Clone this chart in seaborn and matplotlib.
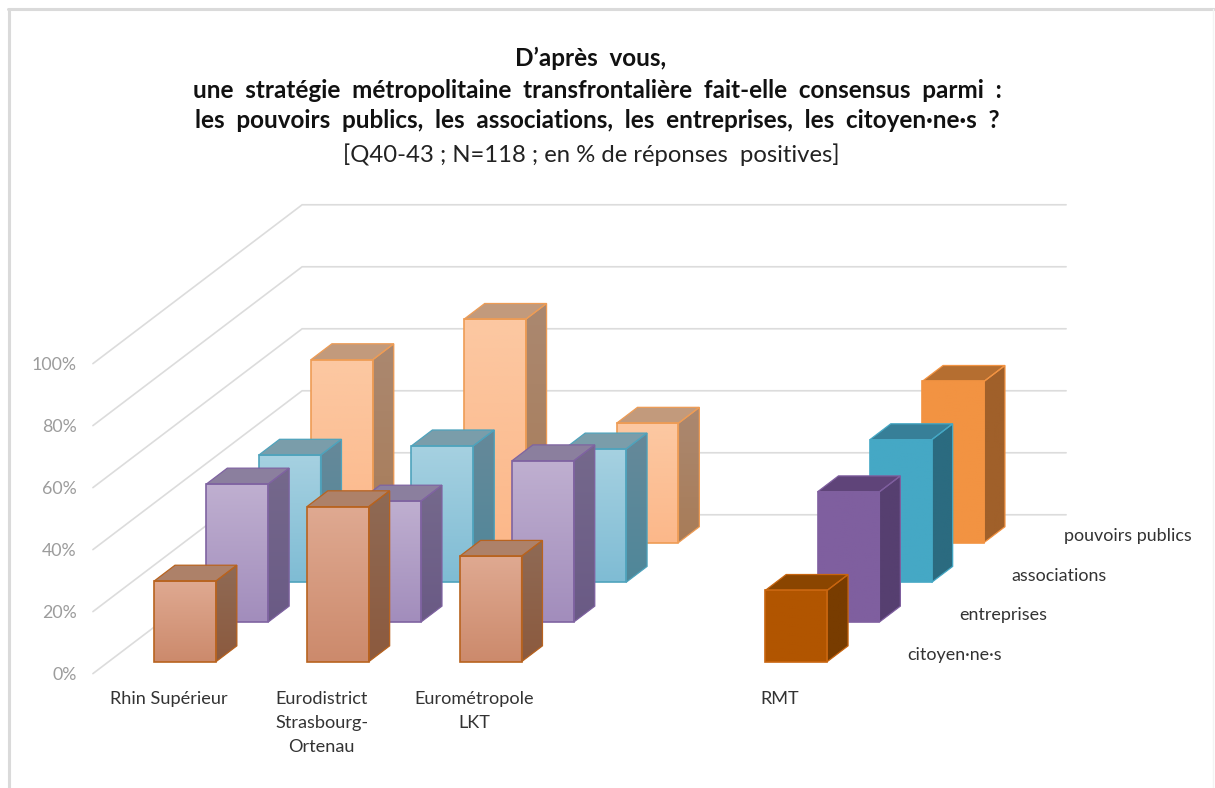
import numpy as np
import pandas as pd
import matplotlib
matplotlib.use("Agg")
import matplotlib.pyplot as plt
from matplotlib.colors import to_rgb
from matplotlib.lines import Line2D
from matplotlib.patches import Polygon
import seaborn as sns

# ---------- data ----------
categories = ["Rhin Supérieur", "Eurodistrict\nStrasbourg-\nOrtenau", "Eurométropole\nLKT", "RMT"]
cat_positions = [0, 1, 2, 4]
series_names = ["citoyen·ne·s", "entreprises", "associations", "pouvoirs publics"]
citoyens = [26, 50, 34, 23]
entreprises = [44.5, 39, 52, 42]
associations = [41, 44, 43, 46]
pouvoirs = [59, 72, 38.5, 52]
series_values = [citoyens, entreprises, associations, pouvoirs]
pct_ticks = [0, 20, 40, 60, 80, 100]

title_lines = [
    "D’après  vous,",
    "une  stratégie  métropolitaine  transfrontalière  fait-elle  consensus  parmi  :",
    "les  pouvoirs  publics,  les  associations,  les  entreprises,  les  citoyen·ne·s  ?",
]
title_centers = [591, 597, 597]
subtitle = "[Q40-43 ; N=118 ; en % de réponses  positives]"

# ---------- styles: (front top, front bottom, side top, side bottom, roof, edge) ----------
light_styles = [
    ("#DFA991", "#CC8A6C", "#8F6A55", "#8C5A3E", "#AD8169", "#B8631F"),
    ("#BFAFD0", "#A28DBC", "#75698C", "#6A5A85", "#8B7F9E", "#7F63A1"),
    ("#A6D1E1", "#7FBCD4", "#66899A", "#4F8799", "#7A9DAA", "#4FA3BC"),
    ("#FCC8A2", "#FCB88A", "#AB8870", "#A87C58", "#C29A7C", "#EE9C55"),
]
solid_styles = [
    ("#B15500", "#B15500", "#783C00", "#783C00", "#8A4500", "#C8650F"),
    ("#7F5F9F", "#7F5F9F", "#563F70", "#563F70", "#5F4479", "#7F5F9F"),
    ("#45A8C5", "#45A8C5", "#2B6B80", "#2B6B80", "#377F98", "#45A8C5"),
    ("#F29342", "#F29342", "#A0602A", "#A0602A", "#B56E30", "#F29342"),
]
GRID = "#DCDCDC"

# ---------- oblique projection of the floor depth ----------
ROW_DX, ROW_DY = 0.3423, 12.81      # one series row, in category units and in % units
BAR_W, BAR_DEPTH = 0.405, 0.40      # bar width; bar depth as a fraction of a row
WALL_FRONT, WALL_BACK = -0.3, 3.7
AXIS_LEFT, AXIS_RIGHT = -0.5, 4.5


def proj(x, row, pct):
    return x + row * ROW_DX, pct + row * ROW_DY


def gradient(ax, patch, top, bottom, z):
    verts = patch.get_xy()
    x0, x1 = verts[:, 0].min(), verts[:, 0].max()
    y0, y1 = verts[:, 1].min(), verts[:, 1].max()
    img = np.linspace(to_rgb(top), to_rgb(bottom), 64)[:, None, :]
    im = ax.imshow(img, extent=(x0, x1, y0, y1), aspect="auto", origin="upper",
                   interpolation="bilinear", zorder=z)
    im.set_clip_path(patch)


sns.set_theme(style="white")
plt.rcParams["font.family"] = ["Lato", "DejaVu Sans"]
fig = plt.figure(figsize=(12.15, 7.88), dpi=100, facecolor="white")
ax = fig.add_axes([0, 0, 1, 1])

# grid: left floor-to-wall diagonals and back wall lines
for t in pct_ticks:
    xs, ys = zip(proj(AXIS_LEFT, WALL_FRONT, t), proj(AXIS_LEFT, WALL_BACK, t), proj(AXIS_RIGHT, WALL_BACK, t))
    ax.plot(xs, ys, color=GRID, lw=1.2, zorder=1, solid_joinstyle="miter")
    tx, ty = proj(AXIS_LEFT, WALL_FRONT, t)
    ax.text(tx - 0.108, ty - 0.5, f"{t}%", ha="right", va="center", fontsize=12.8, color="#9C9C9C")

# bars, back row first
for row in reversed(range(4)):
    z = 5 + (3 - row)
    values = series_values[row]
    for idx in [(0, 1, 2), (3,)]:
        styles = light_styles[row] if len(idx) == 3 else solid_styles[row]
        front_top, front_bot, side_top, side_bot, roof, edge = styles
        frame = pd.DataFrame({
            "x": [cat_positions[i] + row * ROW_DX for i in idx],
            "v": [values[i] for i in idx],
        })
        sns.barplot(data=frame, x="x", y="v", native_scale=True, width=BAR_W, ax=ax,
                    color=front_top, saturation=1, errorbar=None, bottom=row * ROW_DY,
                    edgecolor="none", linewidth=0, zorder=z)
        for i in idx:
            x = cat_positions[i]
            v = values[i]
            lft, rgt = x - BAR_W / 2, x + BAR_W / 2
            front = [proj(lft, row, 0), proj(rgt, row, 0), proj(rgt, row, v), proj(lft, row, v)]
            side = [proj(rgt, row, 0), proj(rgt, row + BAR_DEPTH, 0),
                    proj(rgt, row + BAR_DEPTH, v), proj(rgt, row, v)]
            top = [proj(lft, row, v), proj(rgt, row, v),
                   proj(rgt, row + BAR_DEPTH, v), proj(lft, row + BAR_DEPTH, v)]
            p_side = Polygon(side, closed=True, fc=side_top, ec="none", zorder=z)
            ax.add_patch(p_side)
            gradient(ax, p_side, side_top, side_bot, z + 0.01)
            p_front = Polygon(front, closed=True, fc=front_top, ec="none", zorder=z + 0.02)
            ax.add_patch(p_front)
            gradient(ax, p_front, front_top, front_bot, z + 0.03)
            ax.add_patch(Polygon(top, closed=True, fc=roof, ec="none", zorder=z + 0.04))
            for poly, lw in ((side, 0.9), (top, 0.9), (front, 1.2)):
                ax.add_patch(Polygon(poly, closed=True, fc="none", ec=edge, lw=lw, zorder=z + 0.05,
                                     joinstyle="miter"))

# category labels
for name, x in zip(categories, cat_positions):
    lx, ly = proj(x, 0, 0)
    ax.text(lx - 0.105, ly - 9.5, name, ha="center", va="top", fontsize=13.1,
            color="#333333", linespacing=1.6, ma="center")

# series labels on the right
for row, name in enumerate(series_names):
    sx, sy = proj(4.725, row, 2.1)
    ax.text(sx, sy, name, ha="left", va="center", fontsize=12.9, color="#333333")

# titles
for line, xpix, ypix in zip(title_lines, title_centers, (58, 90, 121)):
    ax.text(xpix / 1215, 1 - ypix / 788, line, transform=ax.transAxes, ha="center", va="center",
            fontsize=17.5, fontweight="bold", color="#111111")
ax.text(591 / 1215, 1 - 155 / 788, subtitle, transform=ax.transAxes, ha="center", va="center",
        fontsize=17.2, color="#222222")

# limits chosen so data units land where the chart area sits
PX_X, PX_Y = 152.8, 3.1
ax.set_xlim(-185 / PX_X, (1215 - 185) / PX_X)
ax.set_ylim((661.7 - 788) / PX_Y, 661.7 / PX_Y)
ax.set_axis_off()

# light chart frame
W, H = 1215, 788
for (x0, y0, x1, y1, c, lw) in [(9, 788, 9, 9, "#DADADA", 2.2), (8, 9, 1214, 9, "#DADADA", 2.2),
                               (1213, 9, 1213, 788, "#F3F3F3", 1.0)]:
    fig.add_artist(Line2D([x0 / W, x1 / W], [1 - y0 / H, 1 - y1 / H], color=c, lw=lw))

fig.savefig("out.png", dpi=100, facecolor="white")
